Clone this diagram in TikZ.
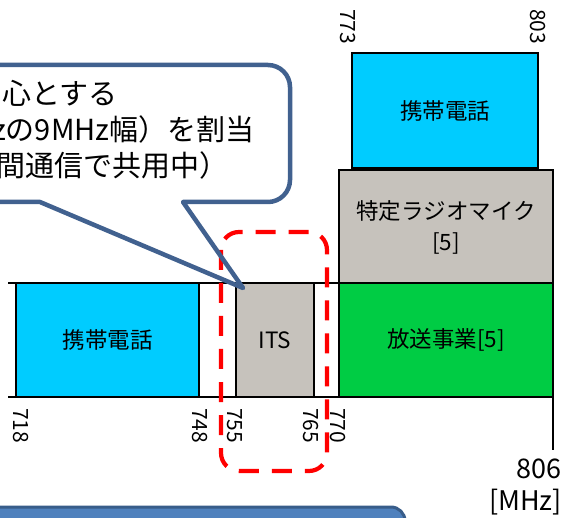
\documentclass[tikz,border=0pt]{standalone}
\usepackage{fontspec}
\setmainfont{Noto Sans CJK JP}
\definecolor{bandcyan}{HTML}{00CCFF}
\definecolor{bandgray}{HTML}{C6C2BC}
\definecolor{bandgreen}{HTML}{00CC44}
\definecolor{callblue}{HTML}{41618F}
\definecolor{boxfill}{HTML}{4F81BD}
\definecolor{boxline}{HTML}{385D8A}
\begin{document}
\begin{tikzpicture}[x=1pt,y=-1pt,
  bandbox/.style={draw=black, line width=2.8pt, inner sep=0pt, align=center,
    font=\fontsize{22.5}{31}\selectfont},
  ticklbl/.style={rotate=-90, anchor=west, inner sep=0pt, font=\fontsize{21}{22}\selectfont},
  calltext/.style={anchor=base west, inner sep=0pt, font=\fontsize{29}{30}\selectfont},
  unitlbl/.style={anchor=base east, inner sep=0pt, font=\fontsize{27}{30}\selectfont},
  axisline/.style={draw=black, line width=2.8pt},
  callout/.style={draw=callblue, line width=4.5pt, line join=round},
  zone/.style={draw=red, line width=4.2pt, dash pattern=on 20pt off 13pt, rounded corners=18pt}]
\clip (0,0) rectangle (562,518);
% axis lines
\coordinate (axl) at (8,283);
\coordinate (axr) at (553,283);
\coordinate (bxl) at (8,397);
\coordinate (bxr) at (553,397);
\coordinate (axe) at (553,450);
\draw[axisline] (axl) -- (axr);
\draw[axisline] (bxl) -- (bxr);
\draw[axisline] (bxr) -- (axe);
% upper bands
\node[bandbox, fill=bandcyan, minimum width=186pt, minimum height=115pt] (mobtop) at (445,110.5) {携帯電話};
\node[bandbox, fill=bandgray, minimum width=214pt, minimum height=115pt] (mic) at (446,227.5) {特定ラジオマイク\\{[5]}};
% lower bands
\node[bandbox, fill=bandcyan, minimum width=183pt, minimum height=114pt] (mob) at (107.5,340) {携帯電話};
\node[bandbox, fill=white, minimum width=37pt, minimum height=114pt] (gap1) at (217.5,340) {};
\node[bandbox, fill=bandgray, minimum width=78pt, minimum height=114pt] (its) at (275,340) {ITS};
\node[bandbox, fill=white, minimum width=25pt, minimum height=114pt] (gap2) at (326.5,340) {};
\node[bandbox, fill=bandgreen, minimum width=214pt, minimum height=114pt] (bc) at (446,340) {放送事業[5]};
% tick labels
\node[ticklbl] (l718) at (21,408) {718};
\node[ticklbl] (l748) at (200,408) {748};
\node[ticklbl] (l755) at (235,408) {755};
\node[ticklbl] (l765) at (311,408) {765};
\node[ticklbl] (l770) at (338,408) {770};
\node[ticklbl] (l773) at (348,9) {773};
\node[ticklbl] (l803) at (538,9) {803};
\node[unitlbl] (f806) at (562,478) {806};
\node[unitlbl] (fmhz) at (562,510) {[MHz]};
% red dashed zone
\draw[zone] (221,232) rectangle (327,471);
% callout
\coordinate (tip) at (243,288);
\draw[callout] (-50,65) -- (268,65) .. controls (280.1,65) and (290,74.9) .. (290,87)
  -- (290,180) .. controls (290,192.1) and (280.1,202) .. (268,202)
  -- (183,202) -- (tip) -- (40,202) -- (-50,202);
\node[calltext] (c1) at (2,105) {心とする};
\node[calltext] (c2) at (-8,141) {zの9MHz幅）を割当};
\node[calltext] (c3) at (-4,177) {間通信で共用中）};
% bottom box
\draw[draw=boxline, fill=boxfill, line width=3pt, rounded corners=14pt] (-50,507) rectangle (405,560);
\end{tikzpicture}
\end{document}
